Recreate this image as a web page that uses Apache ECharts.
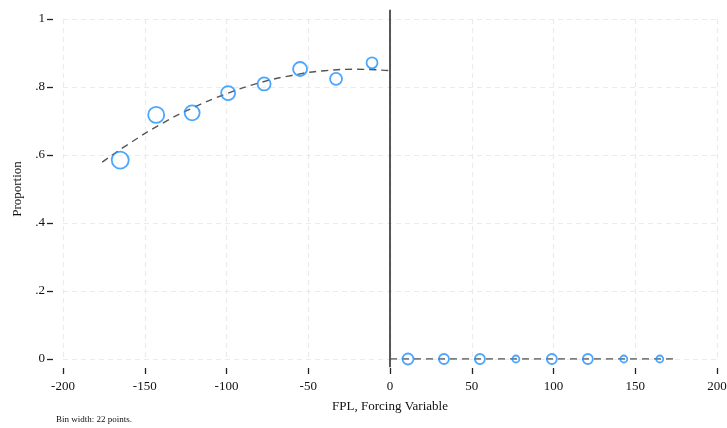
<!DOCTYPE html>
<html><head><meta charset="utf-8">
<script src="https://cdn.jsdelivr.net/npm/echarts@6/dist/echarts.min.js"></script>
<style>html,body{margin:0;padding:0;background:#fff}#c{width:727px;height:428px}</style>
</head><body><div id="c"></div>
<script>
// Binned means (left of cutoff)
const leftX = [-165, -143, -121, -99, -77, -55, -33, -11];
const leftY = [0.585, 0.718, 0.724, 0.782, 0.809, 0.853, 0.824, 0.871];
const leftWeight = [8.5, 8, 7.5, 7, 6.5, 7, 6, 5.5];
// Binned means (right of cutoff)
const rightX = [11, 33, 55, 77, 99, 121, 143, 165];
const rightY = [0, 0, 0, 0, 0, 0, 0, 0];
const rightWeight = [5.5, 5, 5, 3.5, 5, 5, 3.5, 3.5];
// Fitted curves
const fitLeftX = [-176, -160, -140, -120, -100, -80, -60, -40, -20, 0];
const fitLeftY = [0.579, 0.632, 0.691, 0.740, 0.780, 0.812, 0.834, 0.848, 0.852, 0.848];
const fitRightX = [0, 176];
const fitRightY = [0, 0];
// Cutoff line
const cutX = [0, 0];
const cutY = [-0.024, 1.027];
// Tick labels
const yTicks = [0, 0.2, 0.4, 0.6, 0.8, 1];
const yTickLabels = ['0', '.2', '.4', '.6', '.8', '1'];

const zip = (a, b) => a.map((v, i) => [v, b[i]]);
const font = 'Liberation Serif, Times New Roman, serif';
const blue = '#1e90ff';

const chart = echarts.init(document.getElementById('c'));
chart.setOption({
  animation: false,
  grid: {left: 63, right: 10, top: 19, bottom: 69, outerBoundsMode: 'none', containLabel: false},
  xAxis: {
    type: 'value', min: -200, max: 200, interval: 50, offset: 9,
    name: 'FPL, Forcing Variable', nameLocation: 'middle', nameGap: 32,
    nameTextStyle: {fontFamily: font, fontSize: 13, color: '#111'},
    axisLine: {show: false, onZero: false},
    axisTick: {show: true, length: 6, lineStyle: {color: '#222', width: 1.3}},
    axisLabel: {fontFamily: font, fontSize: 13, color: '#111', margin: 12},
    splitLine: {show: true, lineStyle: {color: '#ebebeb', type: [5, 4], width: 1.2}}
  },
  yAxis: {
    type: 'value', min: 0, max: 1, interval: 0.2, offset: 10,
    name: 'Proportion', nameLocation: 'middle', nameGap: 26,
    nameTextStyle: {fontFamily: font, fontSize: 13, color: '#111'},
    axisLine: {show: false, onZero: false},
    axisTick: {show: true, length: 6, lineStyle: {color: '#222', width: 1.3}},
    axisLabel: {fontFamily: font, fontSize: 13, color: '#111', margin: 8,
      formatter: v => { const i = yTicks.findIndex(t => Math.abs(t - v) < 1e-9); return i >= 0 ? yTickLabels[i] : ''; }},
    splitLine: {show: true, lineStyle: {color: '#ebebeb', type: [5, 4], width: 1.2}}
  },
  graphic: [{type: 'text', left: 56, top: 415, style: {text: 'Bin width: 22 points.', font: '9px ' + font, fill: '#111'}}],
  series: [
    {type: 'line', data: zip(cutX, cutY), symbol: 'none', clip: false, z: 1,
      lineStyle: {color: '#222', width: 1.5}},
    {type: 'line', data: zip(fitLeftX, fitLeftY), symbol: 'none', smooth: true, z: 2,
      lineStyle: {color: '#555', width: 1.4, type: [7, 5]}},
    {type: 'line', data: zip(fitRightX, fitRightY), symbol: 'none', z: 2,
      lineStyle: {color: '#555', width: 1.4, type: [7, 5]}},
    {type: 'scatter', data: zip(leftX, leftY).map((d, i) => ({value: d, symbolSize: leftWeight[i] * 2})), z: 3,
      itemStyle: {color: 'rgba(255,255,255,0)', borderColor: blue, borderWidth: 1.8}},
    {type: 'scatter', data: zip(rightX, rightY).map((d, i) => ({value: d, symbolSize: rightWeight[i] * 2})), z: 3,
      itemStyle: {color: 'rgba(255,255,255,0)', borderColor: blue, borderWidth: 1.8}}
  ]
});
</script></body></html>
